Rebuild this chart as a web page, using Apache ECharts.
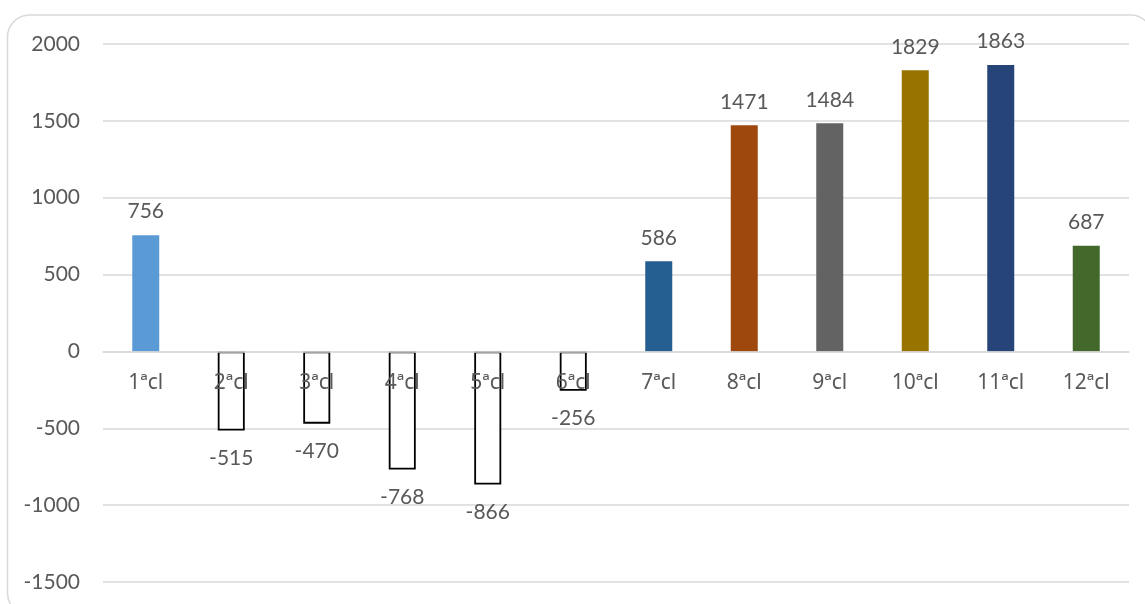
<!DOCTYPE html>
<html>
<head>
<meta charset="utf-8">
<script src="https://cdn.jsdelivr.net/npm/echarts@6/dist/echarts.min.js"></script>
<style>
  html, body { margin: 0; padding: 0; background: #fff; }
  #chart { width: 1145px; height: 604px; }
</style>
</head>
<body>
<div id="chart"></div>
<script>
const categories = ['1ªcl', '2ªcl', '3ªcl', '4ªcl', '5ªcl', '6ªcl', '7ªcl', '8ªcl', '9ªcl', '10ªcl', '11ªcl', '12ªcl']
const values = [756, -515, -470, -768, -866, -256, 586, 1471, 1484, 1829, 1863, 687]
// fill colour per bar; negative bars are drawn hollow
const barColors = ['#5B9BD5', null, null, null, null, null, '#255E91', '#9E480E', '#636363', '#997300', '#264478', '#43682B']
const yTicks = { min: -1500, max: 2000, interval: 500 }

const TEXT = '#595959'
const FONT = 'Lato'
const GRID = { left: 103, right: 16, top: 44, bottom: 22 }
const H = 604
// onZero doesn't kick in here, so lift the category axis up to the zero line by hand
const gridH = H - GRID.top - GRID.bottom
const zeroOffset = -gridH * (0 - yTicks.min) / (yTicks.max - yTicks.min)

const chart = echarts.init(document.getElementById('chart'), null, { renderer: 'canvas' })

const data = values.map((v, i) => {
  const neg = v < 0
  return {
    value: v,
    itemStyle: neg
      ? { color: '#fff', borderColor: '#000', borderWidth: 1.8 }
      : { color: barColors[i] },
    label: neg
      ? { position: 'bottom', distance: 17 }
      : { position: 'top', distance: 13 }
  }
})

chart.setOption({
  animation: false,
  textStyle: { fontFamily: FONT },
  graphic: [{
    type: 'rect',
    z: -10,
    shape: { x: 7.5, y: 15, width: 1145, height: 600, r: 22 },
    style: { fill: 'none', stroke: '#d9d9d9', lineWidth: 1.5 }
  }],
  grid: { ...GRID, containLabel: false, outerBoundsMode: 'none' },
  xAxis: {
    type: 'category',
    data: categories,
    position: 'bottom',
    offset: zeroOffset,
    z: 10,
    axisLine: { show: true, onZero: false, lineStyle: { color: '#d9d9d9', width: 1.5 } },
    axisTick: { show: false },
    axisLabel: { color: TEXT, fontSize: 21, fontFamily: 'Noto Sans', margin: 21 },
    splitLine: { show: false }
  },
  yAxis: {
    type: 'value',
    min: yTicks.min,
    max: yTicks.max,
    interval: yTicks.interval,
    axisLine: { show: false },
    axisTick: { show: false },
    axisLabel: { color: TEXT, fontSize: 21, fontFamily: FONT, margin: 23, formatter: (v) => String(v) },
    splitLine: { show: true, lineStyle: { color: '#d9d9d9', width: 1.5 } }
  },
  series: [{
    type: 'bar',
    barWidth: 27,
    data,
    label: {
      show: true,
      color: TEXT,
      fontSize: 21,
      fontFamily: FONT
    }
  }]
})
</script>
</body>
</html>
